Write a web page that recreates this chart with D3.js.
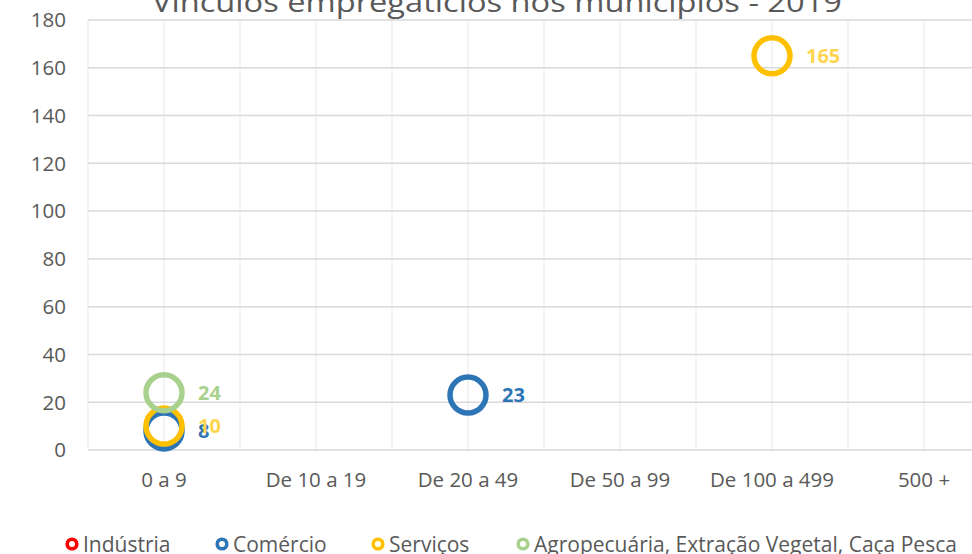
<!DOCTYPE html>
<html>
<head>
<meta charset="utf-8">
<script src="https://cdn.jsdelivr.net/npm/d3@7/dist/d3.min.js"></script>
<style>
  body { margin: 0; background: #fff; }
  svg { display: block; font-family: "Open Sans", sans-serif; }
</style>
</head>
<body>
<svg width="972" height="554"></svg>
<script>
var categories = ["0 a 9", "De 10 a 19", "De 20 a 49", "De 50 a 99", "De 100 a 499", "500 +"];
var industria = [null, null, null, null, null, null];
var comercio  = [8, null, 23, null, null, null];
var servicos  = [10, null, null, null, 165, null];
var agro      = [24, null, null, null, null, null];
var yTicks = [0, 20, 40, 60, 80, 100, 120, 140, 160, 180];

var series = [
  {name: "Indústria", values: industria, color: "#ff0000", label: "#ff0000"},
  {name: "Comércio", values: comercio, color: "#2e75b6", label: "#2e75b6"},
  {name: "Serviços", values: servicos, color: "#ffc000", label: "#ffd54f"},
  {name: "Agropecuária, Extração Vegetal, Caça Pesca", values: agro, color: "#a9d18e", label: "#a9d18e"}
];
var legendX = [72, 222, 378, 523];

var svg = d3.select("svg"),
    width = +svg.attr("width"),
    height = +svg.attr("height");

var x = d3.scaleBand()
    .domain(categories)
    .range([88, 1000])
    .padding(0);

var y = d3.scaleLinear()
    .domain([0, 180])
    .range([450, 20]);

var bw = x.bandwidth();

// vertical gridlines at band edges and centers
var vLines = [];
categories.forEach(function(c) { vLines.push(x(c)); vLines.push(x(c) + bw / 2); });
vLines.push(x(categories[categories.length - 1]) + bw);

svg.append("g").selectAll("line")
  .data(vLines)
  .enter().append("line")
    .attr("x1", function(d) { return d; })
    .attr("x2", function(d) { return d; })
    .attr("y1", y(180))
    .attr("y2", y(0))
    .attr("stroke", "#efefef")
    .attr("stroke-width", 1.3);

svg.append("g").selectAll("line")
  .data(yTicks)
  .enter().append("line")
    .attr("x1", 88)
    .attr("x2", 1000)
    .attr("y1", function(d) { return y(d); })
    .attr("y2", function(d) { return y(d); })
    .attr("stroke", "#d9d9d9")
    .attr("stroke-width", 1.5);

// y axis labels
svg.append("g").selectAll("text")
  .data(yTicks)
  .enter().append("text")
    .attr("x", 66)
    .attr("y", function(d) { return y(d); })
    .attr("dy", "0.36em")
    .attr("text-anchor", "end")
    .style("font-size", "20.5px")
    .attr("fill", "#595959")
    .text(function(d) { return d; });

// x axis labels
svg.append("g").selectAll("text")
  .data(categories)
  .enter().append("text")
    .attr("x", function(d) { return x(d) + bw / 2; })
    .attr("y", 480)
    .attr("dy", "0.36em")
    .attr("text-anchor", "middle")
    .style("font-size", "20.5px")
    .attr("fill", "#595959")
    .text(function(d) { return d; });

// title (partly cut off at the top)
svg.append("text")
  .attr("x", 497)
  .attr("y", 12)
  .attr("text-anchor", "middle")
  .attr("textLength", 690)
  .attr("lengthAdjust", "spacingAndGlyphs")
  .style("font-size", "27px")
  .attr("fill", "#595959")
  .text("Vínculos empregatícios nos municípios - 2019");

// markers
series.forEach(function(s) {
  var pts = [];
  s.values.forEach(function(v, i) { if (v != null) pts.push({cat: categories[i], value: v}); });

  var g = svg.append("g");
  g.selectAll("circle")
    .data(pts)
    .enter().append("circle")
      .attr("cx", function(d) { return x(d.cat) + bw / 2; })
      .attr("cy", function(d) { return y(d.value); })
      .attr("r", 18)
      .attr("fill", "none")
      .attr("stroke", s.color)
      .attr("stroke-width", 5.5);
  s.pts = pts;
});

// data labels
series.forEach(function(s) {
  svg.append("g").selectAll("text")
    .data(s.pts)
    .enter().append("text")
      .attr("x", function(d) { return x(d.cat) + bw / 2 + 34; })
      .attr("y", function(d) { return y(d.value); })
      .attr("dy", "0.36em")
      .style("font-size", "20px")
      .style("font-weight", "bold")
      .attr("fill", s.label)
      .text(function(d) { return d.value; });
});

// legend
var legend = svg.append("g");
series.forEach(function(s, i) {
  legend.append("circle")
    .attr("cx", legendX[i])
    .attr("cy", 544)
    .attr("r", 4.8)
    .attr("fill", "none")
    .attr("stroke", s.color)
    .attr("stroke-width", 3.6);
  legend.append("text")
    .attr("x", legendX[i] + 11)
    .attr("y", 544)
    .attr("dy", "0.36em")
    .style("font-size", "21px")
    .attr("fill", "#595959")
    .text(s.name);
});
</script>
</body>
</html>
